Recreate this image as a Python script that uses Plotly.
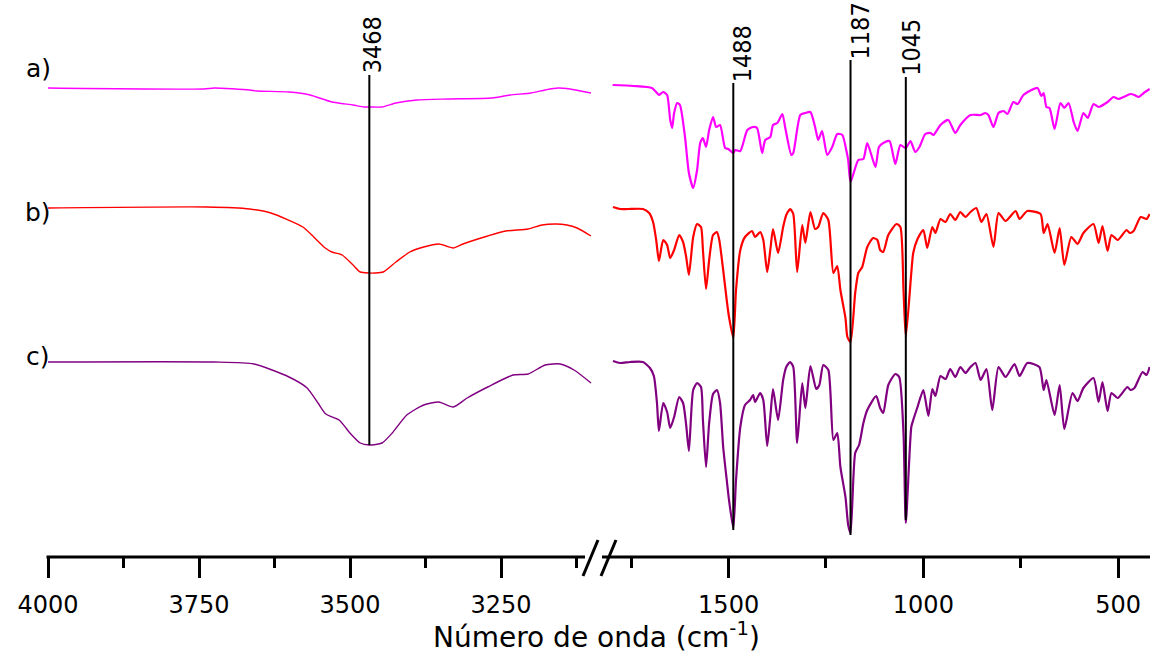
import plotly.graph_objects as go

# ---------------- FTIR spectra (transmittance, arbitrary units, stacked) ----------------
# High-wavenumber region (4000-3100 cm-1)
LEFT_WN_A = [4000, 3742, 3725, 3666, 3654, 3601, 3566, 3530, 3495, 3477, 3468, 3447,
             3424, 3389, 3336, 3265, 3235, 3200, 3177, 3156, 3136, 3101]
LEFT_T_A = [469, 468, 469, 467, 466, 465, 462, 455, 452, 450, 450, 450,
            454, 457, 458, 459, 462, 464, 467, 469, 468, 464]

LEFT_WN_B = [4000, 3737, 3666, 3631, 3578, 3560, 3541, 3530, 3513, 3495, 3483, 3468,
             3459, 3445, 3424, 3401, 3378, 3353, 3341, 3329, 3313, 3272, 3242, 3205,
             3182, 3159, 3141, 3124, 3101]
LEFT_T_B = [349, 350, 348, 344, 330, 320, 309, 305, 302, 292, 285, 284,
            284, 285, 295, 305, 310, 313, 311, 309, 313, 321, 326, 328,
            332, 333, 332, 329, 321]

LEFT_WN_C = [4000, 3725, 3659, 3601, 3571, 3553, 3540, 3518, 3500, 3483, 3468, 3447,
             3430, 3406, 3378, 3353, 3329, 3306, 3272, 3230, 3205, 3177, 3152, 3129, 3101]
LEFT_T_C = [195, 195, 193, 180, 169, 154, 143, 137, 124, 114, 112, 114,
            124, 142, 152, 155, 150, 159, 170, 182, 183, 192, 193, 187, 174]

# Fingerprint region (1800-418 cm-1)
RIGHT_WN_A = [1798, 1745, 1697, 1684, 1679, 1668, 1658, 1650, 1645, 1640, 1632, 1625,
              1612, 1602, 1591, 1581, 1573, 1566, 1558, 1550, 1540, 1532, 1522, 1509,
              1501, 1488, 1483, 1470, 1452, 1437, 1427, 1414, 1406, 1393, 1386, 1375,
              1362, 1355, 1339, 1334, 1316, 1303, 1290, 1278, 1270, 1260, 1247, 1234,
              1221, 1208, 1198, 1193, 1187, 1167, 1154, 1144, 1123, 1114, 1103, 1087,
              1072, 1059, 1045, 1033, 1021, 1010, 995, 982, 974, 956, 936, 918,
              905, 879, 853, 841, 833, 820, 807, 794, 784, 769, 758, 743,
              707, 697, 691, 684, 676, 663, 648, 638, 627, 614, 604, 589,
              578, 563, 550, 527, 512, 499, 486, 468, 458, 447, 434, 419]
RIGHT_T_A = [472, 471, 469, 464, 462, 465, 462, 437, 429, 444, 454, 452,
             420, 384, 369, 387, 414, 419, 410, 427, 440, 430, 432, 409,
             408, 404, 407, 406, 427, 430, 429, 404, 417, 420, 432, 434,
             443, 430, 402, 404, 442, 444, 445, 430, 417, 426, 402, 410,
             423, 422, 407, 397, 375, 397, 398, 414, 390, 410, 414, 416,
             393, 412, 409, 416, 405, 410, 423, 424, 422, 432, 437, 424,
             432, 442, 442, 444, 442, 430, 444, 446, 443, 455, 453, 462,
             469, 461, 464, 450, 449, 428, 454, 449, 454, 435, 426, 444,
             439, 453, 450, 455, 460, 458, 460, 463, 462, 460, 464, 468]

RIGHT_WN_B = [1797, 1779, 1758, 1720, 1704, 1694, 1686, 1679, 1668, 1658, 1650, 1640,
              1627, 1617, 1609, 1602, 1591, 1581, 1571, 1566, 1558, 1550, 1540, 1530,
              1524, 1514, 1504, 1499, 1488, 1481, 1470, 1458, 1440, 1432, 1419, 1411,
              1401, 1393, 1386, 1373, 1360, 1352, 1342, 1334, 1324, 1311, 1303, 1290,
              1278, 1270, 1257, 1244, 1231, 1221, 1213, 1200, 1195, 1187, 1175, 1167,
              1157, 1144, 1129, 1118, 1111, 1103, 1090, 1069, 1059, 1051, 1045, 1031,
              1026, 1015, 1000, 990, 977, 969, 956, 943, 931, 918, 905, 892,
              879, 864, 851, 838, 820, 807, 789, 763, 753, 733, 699, 691,
              681, 663, 650, 638, 620, 604, 589, 563, 550, 540, 527, 517,
              501, 478, 470, 460, 442, 427, 419]
RIGHT_T_B = [350, 348, 348, 348, 344, 335, 317, 296, 317, 312, 299, 307,
             322, 315, 300, 282, 320, 333, 330, 307, 268, 297, 322, 325,
             317, 287, 254, 240, 219, 267, 307, 320, 326, 320, 325, 317,
             285, 307, 328, 304, 330, 342, 348, 343, 285, 332, 314, 345,
             328, 330, 344, 337, 284, 291, 267, 239, 220, 215, 264, 284,
             290, 310, 319, 317, 307, 305, 322, 333, 330, 267, 220, 284,
             304, 318, 327, 309, 330, 324, 338, 335, 343, 337, 345, 340,
             345, 349, 335, 343, 310, 344, 336, 346, 338, 346, 343, 324,
             333, 304, 329, 292, 320, 313, 324, 333, 314, 331, 306, 322,
             317, 327, 324, 326, 340, 338, 343]

RIGHT_WN_C = [1797, 1779, 1753, 1720, 1702, 1692, 1684, 1679, 1668, 1658, 1650, 1640,
              1627, 1617, 1609, 1602, 1591, 1581, 1571, 1566, 1558, 1550, 1540, 1530,
              1522, 1514, 1504, 1499, 1488, 1481, 1470, 1458, 1445, 1437, 1432, 1419,
              1411, 1401, 1393, 1386, 1373, 1360, 1352, 1342, 1334, 1324, 1311, 1303,
              1290, 1275, 1267, 1257, 1244, 1231, 1221, 1213, 1200, 1193, 1187, 1175,
              1165, 1154, 1144, 1121, 1111, 1103, 1090, 1072, 1062, 1051, 1045, 1031,
              1026, 1015, 1000, 987, 977, 969, 956, 943, 931, 918, 905, 892,
              879, 866, 853, 838, 823, 807, 789, 766, 753, 733, 702, 691,
              684, 663, 650, 638, 617, 604, 589, 563, 550, 540, 527, 517,
              501, 476, 468, 458, 437, 427, 419]
RIGHT_T_C = [196, 194, 195, 195, 189, 181, 154, 126, 154, 145, 129, 140,
             160, 154, 132, 106, 167, 174, 170, 137, 90, 134, 163, 167,
             154, 110, 74, 57, 29, 77, 130, 152, 157, 162, 155, 164,
             157, 111, 140, 168, 137, 177, 190, 195, 190, 114, 174, 149,
             191, 168, 172, 192, 187, 117, 124, 90, 60, 32, 24, 104,
             112, 134, 147, 161, 149, 144, 172, 183, 180, 124, 34, 130,
             137, 150, 167, 141, 168, 161, 181, 178, 188, 180, 190, 184,
             190, 194, 177, 188, 147, 190, 180, 193, 181, 194, 190, 167,
             177, 142, 172, 128, 164, 156, 169, 179, 155, 175, 146, 164,
             159, 170, 167, 169, 185, 182, 190]

SERIES_LABELS = ["a)", "b)", "c)"]
SERIES_COLORS = ["#FF00FF", "#FF0000", "#800080"]

# Marked bands: position, vertical extent of the marker line, label height
PEAKS_LEFT = [3468]
PEAKS_RIGHT = [1488, 1187, 1045]
PEAK_LINE_BOTTOM = {3468: 112, 1488: 27, 1187: 22, 1045: 37}
PEAK_LINE_TOP = {3468: 482, 1488: 474, 1187: 497, 1045: 480}
PEAK_LABEL_Y = {3468: 512, 1488: 503, 1187: 526, 1045: 510}
PEAK_LABEL_SHIFT = {3468: 3, 1488: 9, 1187: 9, 1045: 5}

LEFT_TICKS = [4000, 3750, 3500, 3250]
LEFT_MINOR = [3875, 3625, 3375, 3125]
RIGHT_TICKS = [1500, 1000, 500]
RIGHT_MINOR = [1750, 1250, 750]

W, H = 1150, 655
TICK_FONT = dict(family="DejaVu Sans, Arial, sans-serif", size=24, color="black")
PEAK_FONT = dict(family="Liberation Sans Narrow, DejaVu Sans Condensed, Arial Narrow, sans-serif",
                 size=25, color="black")

fig = go.Figure()

left_sets = [(LEFT_WN_A, LEFT_T_A), (LEFT_WN_B, LEFT_T_B), (LEFT_WN_C, LEFT_T_C)]
right_sets = [(RIGHT_WN_A, RIGHT_T_A), (RIGHT_WN_B, RIGHT_T_B), (RIGHT_WN_C, RIGHT_T_C)]

for (wx, ty), color in zip(left_sets, SERIES_COLORS):
    fig.add_trace(go.Scatter(x=wx, y=ty, xaxis="x", yaxis="y", mode="lines",
                             line=dict(color=color, width=1.4, shape="spline", smoothing=0.6),
                             hoverinfo="skip", showlegend=False))
for (wx, ty), color in zip(right_sets, SERIES_COLORS):
    fig.add_trace(go.Scatter(x=wx, y=ty, xaxis="x2", yaxis="y", mode="lines",
                             line=dict(color=color, width=2.2, shape="spline", smoothing=0.6),
                             hoverinfo="skip", showlegend=False))

annotations = []
for peaks, xa in ((PEAKS_LEFT, "x"), (PEAKS_RIGHT, "x2")):
    for p in peaks:
        fig.add_trace(go.Scatter(x=[p, p], y=[PEAK_LINE_BOTTOM[p], PEAK_LINE_TOP[p]],
                                 xaxis=xa, yaxis="y", mode="lines",
                                 line=dict(color="black", width=2),
                                 hoverinfo="skip", showlegend=False))
        annotations.append(dict(x=p, y=PEAK_LABEL_Y[p], xref=xa, yref="y",
                                text=str(p), textangle=-90, showarrow=False,
                                xanchor="center", yanchor="middle",
                                xshift=PEAK_LABEL_SHIFT[p], font=PEAK_FONT))

# Series labels
for lab, ypx in zip(SERIES_LABELS, [68, 212, 356]):
    annotations.append(dict(x=38 / W, y=1 - ypx / H, xref="paper", yref="paper",
                            text=lab, showarrow=False, xanchor="center", yanchor="middle",
                            font=dict(family="DejaVu Sans, Arial, sans-serif", size=25, color="black")))

# Axis title
annotations.append(dict(x=596 / W, y=1 - 635 / H, xref="paper", yref="paper",
                        text="Número de onda (cm<sup>-1</sup>)", showarrow=False,
                        xanchor="center", yanchor="middle",
                        font=dict(family="DejaVu Sans, Arial, sans-serif", size=28, color="black")))

axis_y = 1 - 557 / H
shapes = [
    dict(type="line", xref="paper", yref="paper", x0=46.5 / W, x1=585 / W, y0=axis_y, y1=axis_y,
         line=dict(color="black", width=3)),
    dict(type="line", xref="paper", yref="paper", x0=602 / W, x1=1.0, y0=axis_y, y1=axis_y,
         line=dict(color="black", width=3)),
    # axis break marks
    dict(type="line", xref="paper", yref="paper", x0=583 / W, x1=598 / W,
         y0=1 - 576 / H, y1=1 - 540 / H, line=dict(color="black", width=3)),
    dict(type="line", xref="paper", yref="paper", x0=601 / W, x1=616 / W,
         y0=1 - 576 / H, y1=1 - 540 / H, line=dict(color="black", width=3)),
]

def xaxis_cfg(domain, rng, ticks, minor):
    return dict(domain=domain, range=rng, anchor="y",
                tickmode="array", tickvals=ticks, ticktext=[str(t) for t in ticks],
                ticks="outside", ticklen=20, tickwidth=3, tickcolor="black",
                tickfont=TICK_FONT, ticklabelstandoff=6, automargin=False,
                minor=dict(tickmode="array", tickvals=minor, ticks="outside", ticklen=10,
                           tickwidth=3, tickcolor="black", showgrid=False),
                showline=False, showgrid=False, zeroline=False, fixedrange=True)

fig.update_layout(
    width=W, height=H,
    margin=dict(l=0, r=0, t=0, b=0, pad=0, autoexpand=False),
    paper_bgcolor="white", plot_bgcolor="white",
    showlegend=False,
    xaxis=xaxis_cfg([48 / W, 591.6 / W], [4000, 3100], LEFT_TICKS, LEFT_MINOR),
    xaxis2=xaxis_cfg([611.8 / W, 1.0], [1800, 418], RIGHT_TICKS, RIGHT_MINOR),
    yaxis=dict(domain=[1 - 557 / H, 1.0], range=[0, 557], visible=False, fixedrange=True),
    annotations=annotations,
    shapes=shapes,
)

fig.write_html("out.html")
